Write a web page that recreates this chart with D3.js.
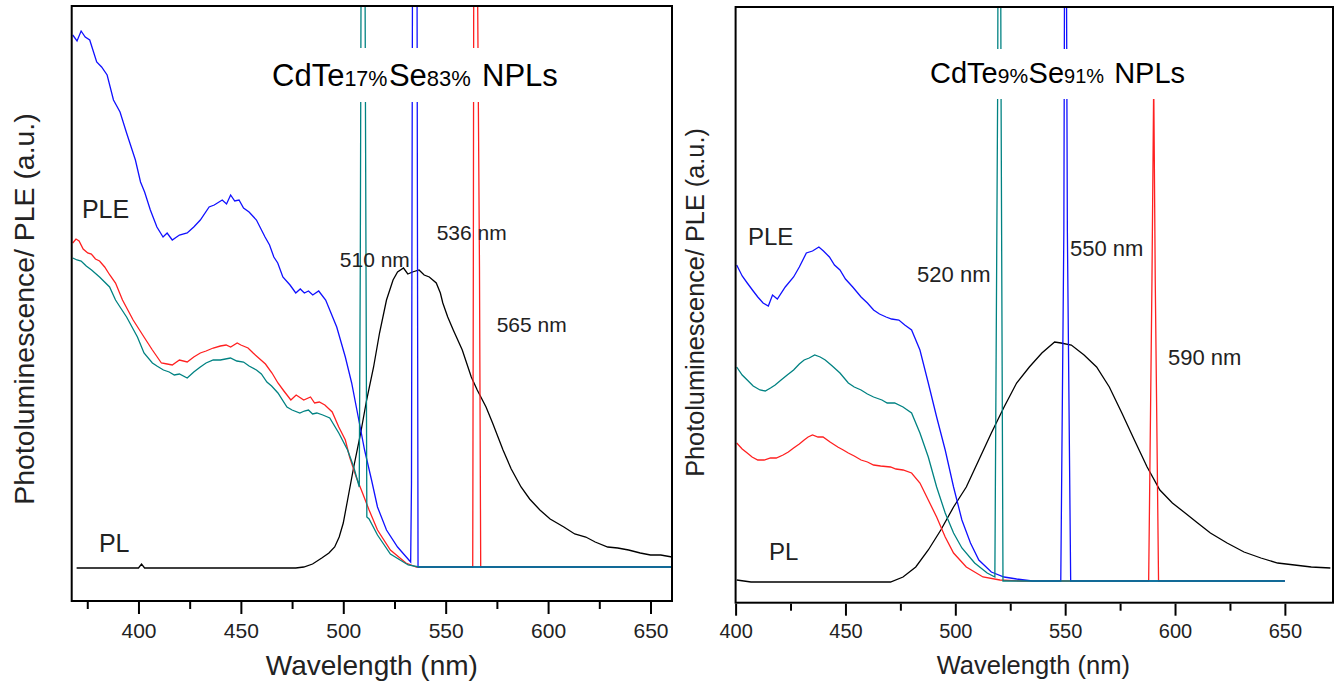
<!DOCTYPE html>
<html>
<head>
<meta charset="utf-8">
<script src="https://cdn.jsdelivr.net/npm/d3@7"></script>
<style>
  body { margin: 0; background: #fff; }
  svg { font-family: "Liberation Sans", Arial, sans-serif; }
</style>
</head>
<body>
<div id="chart"></div>
<script>
// ---- left panel: CdTe17%Se83% ----
var leftBlue = [[367.9,5.32],[370,5.26],[372,5.36],[374,5.30],[376.2,5.27],[379.6,5.05],[382,5.0],[384.7,4.92],[387.8,4.67],[391,4.55],
  [394.2,4.34],[398.5,4.07],[401,3.85],[403,3.75],[405.8,3.57],[409,3.40],[412,3.30],[414,3.34],[416.5,3.27],[420,3.32],[423.8,3.34],
  [427,3.40],[430.2,3.47],[434.5,3.60],[437,3.62],[440.9,3.67],[443,3.63],[445,3.72],[447,3.66],[449.1,3.67],
  [451.3,3.59],[454,3.55],[457.6,3.47],[461.8,3.30],[464,3.22],[466.1,3.10],[468,3.04],[470.5,2.90],[474,2.82],[476.8,2.74],[479,2.78],[481,2.74],
  [483,2.76],[485.1,2.72],[488,2.76],[491.4,2.67],
  [493.4,2.57],[496.8,2.40],[501,2.10],[504.1,1.84],[507.3,1.50],[510.4,1.17],[513.8,0.87],[516.7,0.60],[521.1,0.37],
  [526.5,0.20],[532.9,0.05],[533.3,0.84],[533.8,6],[536,6],[536.5,0],[660.5,0]];
var leftRed = [[367.9,3.24],[369.5,3.28],[371,3.26],[373,3.18],[375.2,3.14],[377,3.13],[379,3.08],[381,3.06],[383.5,3.00],[386,2.92],[388.8,2.84],[392.2,2.67],[397.4,2.47],[402.7,2.30],
  [406.8,2.17],[411.2,2.04],[414,2.03],[416.5,2.02],[420,2.07],[423.8,2.05],[427,2.10],[430.2,2.14],[433,2.16],[436.5,2.19],[440,2.21],[442.8,2.22],[445,2.20],[448.2,2.24],[450,2.22],[453.5,2.19],
  [456,2.14],[459.8,2.07],[462,2.03],[465.2,1.94],[468.1,1.84],[471,1.76],[474.4,1.67],[477,1.72],[480.7,1.67],[484,1.70],[486,1.64],[488.3,1.65],[491,1.62],[494.6,1.55],[497.8,1.40],
  [501,1.27],[503.1,1.10],[506.3,0.90],[509.4,0.74],[512.6,0.57],[516.7,0.37],[523,0.17],[530.6,0.04],[535.7,0],
  [563.2,0],[563.5,3],[563.7,6],[565.5,6],[566.5,3],[567.1,0],[660.5,0]];
var leftTeal = [[367.9,3.09],[370,3.07],[372,3.06],[374.5,3.01],[377.1,2.97],[381,2.90],[385.9,2.80],[388.8,2.67],[391,2.60],[394.2,2.50],[399.5,2.30],[402.7,2.14],[406.8,2.04],
  [409,2.01],[412.2,1.97],[415,1.95],[417.5,1.92],[420,1.93],[423.8,1.89],[427,1.95],[430.2,2.00],[433,2.04],[436.5,2.07],[440,2.07],[444.9,2.09],[448,2.06],[451.3,2.05],[454,2.01],[457.6,1.97],[460,1.93],[462.7,1.85],[465,1.81],[468.1,1.74],
  [472.5,1.60],[475,1.57],[478.8,1.54],[481,1.56],[483,1.57],[485,1.53],[487.1,1.54],[490,1.52],[493.4,1.49],[497.8,1.34],[502.1,1.17],[505.1,1.00],[507.8,0.80],
  [508.3,3],[508.7,6],[510.6,6],[511.1,3],[511.5,0.50],[512.6,0.48],[516.7,0.32],[523,0.13],[531.7,0.02],[537,0],[660.5,0]];
var leftPL = [[369.8,-0.01],[400,-0.01],[401.5,0.03],[403,-0.01],[476.8,-0.01],[480.7,0],[485,0.03],[489.5,0.09],[493,0.14],[495.8,0.20],[498,0.30],[500,0.44],
  [502.1,0.67],[505.1,1.00],[508.5,1.34],[511.4,1.67],[514.8,2.00],[517.7,2.34],[521.1,2.67],[524.3,2.87],[526.5,2.95],
  [529.4,2.99],[531.5,2.93],[533.8,2.95],[537,2.97],[539.5,2.92],[542,2.90],[545.4,2.84],[547.4,2.74],[548.6,2.64],[551,2.50],[553.7,2.37],[558.1,2.17],
  [562.5,1.90],[565.4,1.77],[569.7,1.60],[572.9,1.44],[578,1.17],[582,0.98],[586.8,0.80],[591,0.68],[596,0.57],[601,0.48],[607.7,0.40],[613,0.33],[618.4,0.30],
  [623,0.25],[629.1,0.20],[634,0.19],[639.3,0.17],[645,0.14],[650,0.12],[655,0.12],[660.5,0.10]];
var leftTicks = [400, 450, 500, 550, 600, 650];
var leftMinor = [375, 425, 475, 525, 575, 625];
var leftTitle = [["CdTe", "big"], ["17%", "sub"], ["Se", "big"], ["83%", "sub"], [" NPLs", "big"]];
var leftNotes = [["510 nm", 498.3, 3.00], ["536 nm", 545.6, 3.27], ["565 nm", 574.9, 2.35], ["PLE", 372.4, 3.49], ["PL", 380.7, 0.15]];

// ---- right panel: CdTe9%Se91% ----
var rightBlue = [[400.5,3.16],[403,3.05],[405.3,2.98],[408,2.90],[410.1,2.84],[412.5,2.78],[414.9,2.75],[416.8,2.86],[419,2.82],[422.6,2.94],[426.4,3.04],[429,3.14],[432.2,3.28],
  [435,3.30],[437.9,3.34],[440,3.30],[442.7,3.24],[445,3.16],[447.5,3.11],[450,3.02],[453.3,2.94],[457.1,2.84],[460,2.78],[462.8,2.71],[465.5,2.67],[468.5,2.64],[471,2.62],[474.3,2.61],[477,2.56],[480.1,2.51],
  [483.9,2.31],[487.7,1.98],[491.5,1.64],[495.4,1.31],[499.2,0.94],[503,0.61],[506.9,0.38],[510.7,0.21],[516.4,0.09],
  [522.2,0.04],[527.9,0.02],[535,0],[548,0],[549.4,3.5],[549.7,6],[550.1,8],[550.3,8],[550.6,6],[551,3.5],[552.5,0],[650,0]];
var rightTeal = [[400.5,2.14],[403,2.06],[405.3,2.01],[408,1.95],[411.1,1.91],[413.5,1.90],[415.9,1.93],[418,1.96],[420.7,2.01],[423.5,2.06],[426.4,2.11],[429,2.17],[431.2,2.21],[433.5,2.23],[436,2.26],
  [438.5,2.24],[440.8,2.21],[444,2.15],[447.5,2.08],[451.3,1.98],[454,1.94],[457.1,1.91],[460,1.87],[462.8,1.84],[466.6,1.81],[469,1.78],[472.4,1.78],[476.2,1.74],[480.1,1.68],
  [483.9,1.48],[487.7,1.24],[491.5,0.94],[495.4,0.68],[499.2,0.48],[503,0.33],[508.8,0.18],[514.5,0.08],[518,0.04],
  [519.3,5],[519.6,8],[520.4,8],[520.8,5],[521.7,0],[650,0]];
var rightRed = [[400.5,1.38],[403,1.32],[405.3,1.28],[407.5,1.24],[410.1,1.21],[413,1.21],[415.9,1.23],[418.5,1.23],[421.6,1.26],[424,1.29],[426.4,1.33],[429,1.37],[431.2,1.41],[433,1.44],[435,1.46],
  [437.5,1.44],[439.8,1.44],[443,1.39],[446.5,1.34],[449,1.31],[451.3,1.28],[454,1.25],[457.1,1.21],[460,1.19],[462.8,1.16],[466,1.15],[470.5,1.14],[473,1.12],[476.2,1.11],[480.1,1.08],[483.9,0.98],
  [487.7,0.81],[491.5,0.64],[495.4,0.44],[499.2,0.28],[505,0.14],[512.6,0.04],[520.3,0.01],[530,0],[588,0],
  [589.5,3.0],[590.3,5.0],[591,3.0],[592.5,0],[650,0]];
var rightPL = [[400.5,0.01],[407,-0.01],[470.5,-0.01],[476.2,0.04],[482,0.14],[487.7,0.31],[493.4,0.51],[499.2,0.74],
  [505,0.94],[510.7,1.21],[516.4,1.48],[522.2,1.74],[527.9,1.98],[533.7,2.14],[539.4,2.28],[545.2,2.39],[548.1,2.38],
  [552.8,2.36],[558.6,2.26],[564.3,2.14],[570.1,1.94],[575.8,1.68],[581.5,1.41],[587.3,1.14],[593.1,0.91],[598.8,0.78],
  [604.6,0.68],[610.3,0.58],[616.1,0.48],[623.7,0.38],[631.4,0.29],[639.1,0.23],[646.7,0.18],[654.4,0.16],[662,0.14],[670.7,0.13]];
var rightTicks = [400, 450, 500, 550, 600, 650];
var rightMinor = [425, 475, 525, 575, 625];
var rightTitle = [["CdTe", "big"], ["9%", "sub"], ["Se", "big"], ["91%", "sub"], [" NPLs", "big"]];
var rightNotes = [["520 nm", 482.6, 2.99], ["550 nm", 552.2, 3.25], ["590 nm", 596.8, 2.16], ["PLE", 405.6, 3.36], ["PL", 415.2, 0.21]];

var svg = d3.select('#chart').append('svg')
  .attr('width', 1335)
  .attr('height', 686);

function panel(o) {
  var x = d3.scaleLinear().domain(o.xdom).range([o.left, o.right]);
  var y = d3.scaleLinear().domain(o.ydom).range([o.bottom, o.top]);
  var g = svg.append('g');

  g.append('clipPath').attr('id', o.id)
    .append('rect')
    .attr('x', o.left).attr('y', o.top)
    .attr('width', o.right - o.left).attr('height', o.bottom - o.top);

  var line = d3.line().x(d => x(d[0])).y(d => y(d[1]));
  var plot = g.append('g').attr('clip-path', 'url(#' + o.id + ')');
  o.series.forEach(function(s) {
    plot.append('path')
      .datum(s[0])
      .attr('d', line)
      .attr('fill', 'none')
      .attr('stroke', s[1])
      .attr('stroke-width', 1.3);
  });

  // title with a white box behind it
  var tx = x(o.titleAt[0]), ty = y(o.titleAt[1]);
  g.append('rect')
    .attr('x', tx - 9).attr('y', ty - o.box[1])
    .attr('width', o.box[0]).attr('height', o.box[2])
    .style('fill', '#ffffff')
    .style('stroke', 'none');
  var t = g.append('text')
    .attr('x', tx)
    .attr('y', ty)
    .attr('fill', '#000');
  o.title.forEach(function(p, i) {
    t.append('tspan')
      .attr('dx', i == 0 ? 0 : o.titleGap[i])
      .style('font-size', p[1] == 'big' ? o.bigSize + 'px' : o.subSize[i] + 'px')
      .text(p[0]);
  });

  // annotations
  o.notes.forEach(function(n) {
    g.append('text')
      .attr('x', x(n[1])).attr('y', y(n[2]))
      .style('font-size', (n[0].indexOf('nm') > 0 ? o.noteSize : o.plSize) + 'px')
      .attr('fill', '#222')
      .text(n[0]);
  });

  // frame
  g.append('rect')
    .attr('x', o.left).attr('y', o.top)
    .attr('width', o.right - o.left).attr('height', o.bottom - o.top)
    .attr('fill', 'none')
    .attr('stroke', '#000')
    .attr('stroke-width', 2);

  // axes
  var ax = g.append('g')
    .attr('transform', 'translate(0,' + (o.bottom + 1) + ')')
    .call(d3.axisBottom(x).tickValues(o.ticks).tickSize(12).tickPadding(o.pad).tickFormat(d3.format('d')));
  ax.select('.domain').remove();
  ax.selectAll('line').attr('stroke-width', 2);
  ax.selectAll('text').style('font-size', o.tickSize + 'px').attr('fill', '#222');

  var mn = g.append('g')
    .attr('transform', 'translate(0,' + (o.bottom + 1) + ')')
    .call(d3.axisBottom(x).tickValues(o.minor).tickSize(7).tickFormat(''));
  mn.select('.domain').remove();
  mn.selectAll('line').attr('stroke-width', 2);

  // axis labels
  g.append('text')
    .attr('text-anchor', 'middle')
    .attr('x', (o.left + o.right) / 2 + o.xlabShift)
    .attr('y', o.xlabY)
    .style('font-size', o.labSize + 'px')
    .attr('fill', '#222')
    .text('Wavelength (nm)');

  g.append('text')
    .attr('text-anchor', 'middle')
    .attr('transform', 'translate(' + o.ylabX + ',' + o.ylabMid + ') rotate(-90)')
    .style('font-size', o.ylabSize + 'px')
    .attr('fill', '#222')
    .text('Photoluminescence/ PLE (a.u.)');
}

panel({
  id: 'clipL', left: 71.7, right: 672, top: 6, bottom: 601,
  xdom: [367.4, 660.5], ydom: [-0.34, 5.61],
  series: [[leftPL, '#000'], [leftRed, '#ff2020'], [leftBlue, '#1010ff'], [leftTeal, '#008282']],
  ticks: leftTicks, minor: leftMinor, pad: 9, tickSize: 21,
  title: leftTitle, titleAt: [465.2, 4.81], bigSize: 31, subSize: [0, 21.5, 0, 22, 0], titleGap: [0, 0, 1.5, 0, 2.5],
  box: [314, 38, 54],
  notes: leftNotes, noteSize: 21, plSize: 25,
  labSize: 28, xlabShift: 0, xlabY: 675, ylabSize: 28.4, ylabX: 34, ylabMid: 309
});

panel({
  id: 'clipR', left: 735.6, right: 1333, top: 7, bottom: 602.7,
  xdom: [400, 671.9], ydom: [-0.217, 5.74],
  series: [[rightPL, '#000'], [rightRed, '#ff2020'], [rightBlue, '#1010ff'], [rightTeal, '#008282']],
  ticks: rightTicks, minor: rightMinor, pad: 8, tickSize: 20,
  title: rightTitle, titleAt: [488.5, 4.98], bigSize: 29, subSize: [0, 21, 0, 20, 0], titleGap: [0, 0, 0.5, 0, 2],
  box: [274, 34, 50],
  notes: rightNotes, noteSize: 22, plSize: 24,
  labSize: 25.5, xlabShift: -1, xlabY: 674, ylabSize: 25.3, ylabX: 704, ylabMid: 302.5
});
</script>
</body>
</html>
